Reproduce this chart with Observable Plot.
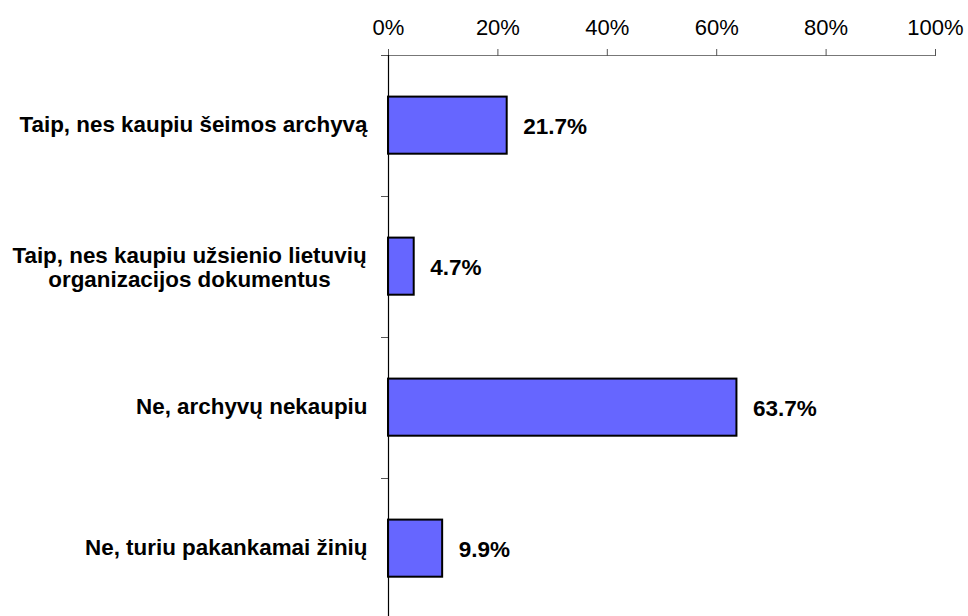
<!DOCTYPE html>
<html>
<head>
<meta charset="utf-8">
<script src="https://cdn.jsdelivr.net/npm/d3@7"></script>
<script src="https://cdn.jsdelivr.net/npm/@observablehq/plot@0.6"></script>
<style>
  html, body { margin: 0; padding: 0; background: #fff; overflow: hidden; }
  svg { display: block; }
</style>
</head>
<body>
<div id="chart"></div>
<script>
const categories = [
  "Taip, nes kaupiu šeimos archyvą",
  "Taip, nes kaupiu užsienio lietuvių\norganizacijos dokumentus",
  "Ne, archyvų nekaupiu",
  "Ne, turiu pakankamai žinių"
];
const values = [21.7, 4.7, 63.7, 9.9];
const xTicks = [0, 20, 40, 60, 80, 100];

const rows = categories.map((c, i) => ({cat: c, value: values[i], pos: i}));
const single = rows.filter(d => !d.cat.includes("\n"));
const multi = rows.filter(d => d.cat.includes("\n"));
const boundaries = d3.range(categories.length + 1);

const chart = Plot.plot({
  width: 968,
  height: 616,
  marginLeft: 388,
  marginRight: 33,
  marginTop: 55,
  marginBottom: 0,
  style: {fontFamily: "'Liberation Sans', Arial, sans-serif", background: "#fff"},
  x: {type: "linear", domain: [0, 100], range: [388, 935]},
  y: {type: "linear", domain: [0, categories.length], range: [55, 619], axis: null},
  marks: [
    Plot.rectX(rows, {
      x1: 0, x2: "value",
      y1: d => d.pos + 0.295, y2: d => d.pos + 0.7,
      fill: "#6666ff", stroke: "#000", strokeWidth: 2
    }),
    // top axis line
    Plot.ruleY([0], {x1: 0, x2: 100, stroke: "#777", strokeWidth: 1.2}),
    Plot.axisX({
      anchor: "top", ticks: xTicks, tickSize: 7, tickPadding: 14, label: null,
      tickFormat: d => d + "%", fontSize: 22, stroke: "#555", color: "#000"
    }),
    Plot.axisY({
      anchor: "left", ticks: boundaries, tickSize: 7, tickFormat: () => "",
      label: null, stroke: "#555"
    }),
    // vertical axis line
    Plot.ruleX([0], {y1: 0, y2: categories.length, stroke: "#000", strokeWidth: 1.2}),
    Plot.text(rows, {
      x: "value", y: d => d.pos + 0.5, text: d => d.value.toFixed(1) + "%",
      textAnchor: "start", dx: 16, dy: 1, fontSize: 22.5, fontWeight: "bold", fill: "#000"
    }),
    Plot.text(single, {
      x: 0, y: d => d.pos + 0.5, text: "cat",
      textAnchor: "end", dx: -21, dy: -1, fontSize: 22.4, fontWeight: "bold", fill: "#000"
    }),
    Plot.text(multi, {
      x: 0, y: d => d.pos + 0.5, text: "cat", lineHeight: 1.07,
      textAnchor: "middle", dx: -199, fontSize: 22.4, fontWeight: "bold", fill: "#000"
    })
  ]
});
document.getElementById("chart").append(chart);
</script>
</body>
</html>
